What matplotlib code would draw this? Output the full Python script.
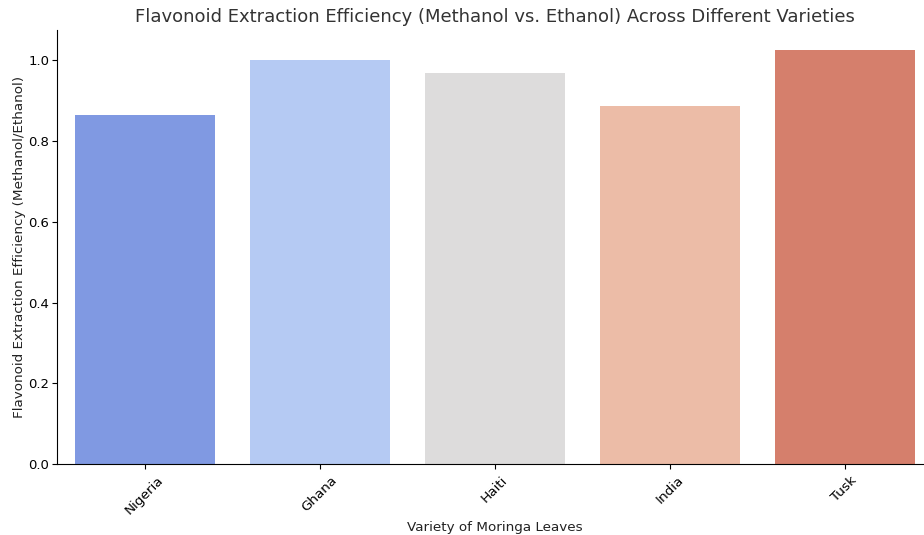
import matplotlib
matplotlib.use('Agg')
import matplotlib.pyplot as plt
import seaborn as sns
import pandas as pd

varieties = ['Nigeria', 'Ghana', 'Haiti', 'India', 'Tusk']
efficiency = [0.864, 1.002, 0.968, 0.888, 1.025]

df = pd.DataFrame({'Variety': varieties, 'Efficiency': efficiency})

plt.rcParams['font.family'] = ['DejaVu Sans']

fig = plt.figure(figsize=(9.24, 5.35), dpi=100)
ax = fig.add_axes([0.0617, 0.1327, 0.947, 0.811])

sns.barplot(data=df, x='Variety', y='Efficiency', hue='Variety',
            palette='coolwarm', legend=False, ax=ax)

ax.set_title('Flavonoid Extraction Efficiency (Methanol vs. Ethanol) Across Different Varieties',
             fontsize=13, color='#333333', pad=6)
ax.set_xlabel('Variety of Moringa Leaves', fontsize=9.7, color='#222222', labelpad=2.5)
ax.set_ylabel('Flavonoid Extraction Efficiency (Methanol/Ethanol)', fontsize=9.7,
              color='#222222', labelpad=2)
ax.tick_params(axis='x', rotation=45, labelsize=9.7, length=3.5)
ax.tick_params(axis='y', labelsize=9.5, length=3.5, pad=2)
ax.set_yticks([0.0, 0.2, 0.4, 0.6, 0.8, 1.0])
ax.set_ylim(0, 1.075)
ax.spines['top'].set_visible(False)
ax.spines['right'].set_visible(False)

fig.savefig('out.png', dpi=100)
